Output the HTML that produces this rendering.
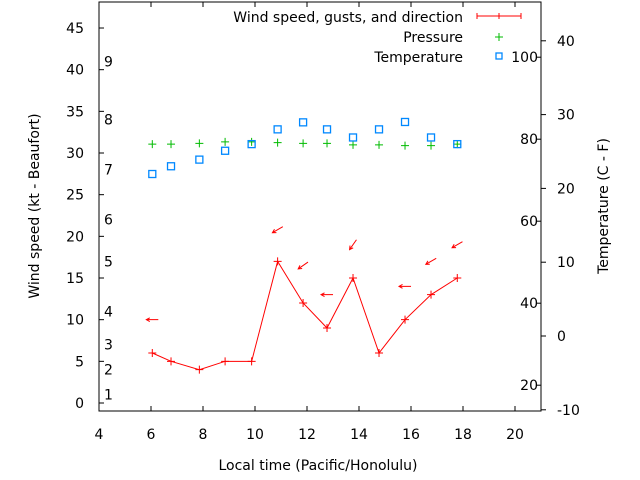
<!DOCTYPE html>
<html><head><meta charset="utf-8"><style>
body{margin:0;background:#fff}
svg{display:block;font-family:"DejaVu Sans","Liberation Sans",sans-serif;font-size:14px}
</style></head><body>
<svg id="c" width="640" height="480" xmlns="http://www.w3.org/2000/svg"></svg>
<script>
const times=[6.05,6.77,7.86,8.85,9.87,10.87,11.85,12.77,13.77,14.77,15.77,16.77,17.78];
const wind=[6,5,4,5,5,17,12,9,15,6,10,13,15];
const gustTimes=[6.05,10.87,11.85,12.77,13.77,15.77,16.77,17.78];
const gusts=[10,20.8,16.5,13,19,14,17,19];
const gustAngles=[180,210,215,180,235,180,210,210];
const pressure=[26,26,26.1,26.3,26.3,26.2,26.1,26.1,25.9,25.9,25.8,25.8,26];
const temps=[21.95,23,23.9,25.1,26,28,28.95,28,26.9,28,29,26.9,26];
const xTicks=[4,6,8,10,12,14,16,18,20];
const windTicks=[0,5,10,15,20,25,30,35,40,45];
const tempCTicks=[-10,0,10,20,30,40];
const tempFTicks=[20,40,60,80,100];
const beaufort=[[1,1],[2,4],[3,7],[4,11],[5,17],[6,22],[7,28],[8,34],[9,41]];
const L=99,R=541,T=2,B=411;
const xs=t=>L+(t-4)*26;
const yw=v=>403-v*8.333;
const yc=v=>336-v*7.38;
const yf=f=>yc((f-32)/1.8);
const svg=document.getElementById('c');const NS='http://www.w3.org/2000/svg';
function mk(tag,a,p){const e=document.createElementNS(NS,tag);for(const k in a)e.setAttribute(k,a[k]);(p||svg).appendChild(e);return e;}
function txt(s,x,y,anc,name,rot){const e=mk('text',{x:x,y:y,'text-anchor':anc||'middle'});if(rot)e.setAttribute('transform',rot);e.textContent=s;

return e;}
const frame=mk('rect',{x:L,y:T,width:R-L,height:B-T,fill:'none',stroke:'#000','stroke-width':1});


xTicks.forEach(t=>{const x=xs(t);mk('path',{d:`M${x} ${B}v-5M${x} ${T}v5`,stroke:'#000'});txt(String(t),x,439,'middle','x-tick-label');});
windTicks.forEach(v=>{const y=yw(v);mk('path',{d:`M${L} ${y}h5`,stroke:'#000'});txt(String(v),84,y+5,'end','y-tick-label');});
tempCTicks.forEach(v=>{const y=yc(v);mk('path',{d:`M${R} ${y}h5`,stroke:'#000'});txt(String(v),557,y+5,'start','temp-c-tick-label');});
tempFTicks.forEach(v=>{const y=yf(v);mk('path',{d:`M${R} ${y}h-5`,stroke:'#000'});txt(String(v),538,y+5,'end','temp-f-tick-label');});
beaufort.forEach(b=>{txt(String(b[0]),104,yw(b[1])+5,'start','beaufort-label');});
txt('Local time (Pacific/Honolulu)',318,470,'middle','x-axis-title');
txt('Wind speed (kt - Beaufort)',39,206,'middle','y-axis-title','rotate(-90 39 206)');
txt('Temperature (C - F)',608,206,'middle','y2-axis-title','rotate(-90 608 206)');
const wl=mk('polyline',{points:times.map((t,i)=>xs(t)+','+yw(wind[i])).join(' '),fill:'none',stroke:'#f00'});


function plus(x,y,c,n){const e=mk('path',{d:`M${x-4} ${y}h8M${x} ${y-4}v8`,stroke:c});

}
times.forEach((t,i)=>plus(xs(t),yw(wind[i]),'#f00','wind-point'));
gustTimes.forEach((t,i)=>{const x=xs(t),y=yw(gusts[i]),a=gustAngles[i]*Math.PI/180;
const dx=Math.cos(a)*6,dy=-Math.sin(a)*6;const hx=x+dx,hy=y+dy,tx=x-dx,ty=y-dy;
const ang=Math.atan2(hy-ty,hx-tx);const p1=[hx-4*Math.cos(ang-0.5),hy-4*Math.sin(ang-0.5)],p2=[hx-4*Math.cos(ang+0.5),hy-4*Math.sin(ang+0.5)];
const g=mk('path',{d:`M${tx} ${ty}L${hx} ${hy}M${p1[0]} ${p1[1]}L${hx} ${hy}L${p2[0]} ${p2[1]}`,stroke:'#f00',fill:'none'});

});
times.forEach((t,i)=>plus(xs(t),yc(pressure[i]),'#0b0','pressure-point'));
times.forEach((t,i)=>{const s=mk('rect',{x:xs(t)-3.5,y:yc(temps[i])-3.5,width:7,height:7,fill:'none',stroke:'#08f','stroke-width':1.3});

});
txt('Wind speed, gusts, and direction',463,22,'end','legend-wind-label');
mk('path',{d:'M477 16h44M477 13v6M521 13v6M499 13v6',stroke:'#f00'});
txt('Pressure',463,42,'end','legend-pressure-label');
plus(499,37,'#0b0','legend-pressure-marker');
txt('Temperature',463,62,'end','legend-temperature-label');
const ls=mk('rect',{x:496,y:53,width:6,height:6,fill:'none',stroke:'#08f','stroke-width':1.3});


</script>
</body></html>
